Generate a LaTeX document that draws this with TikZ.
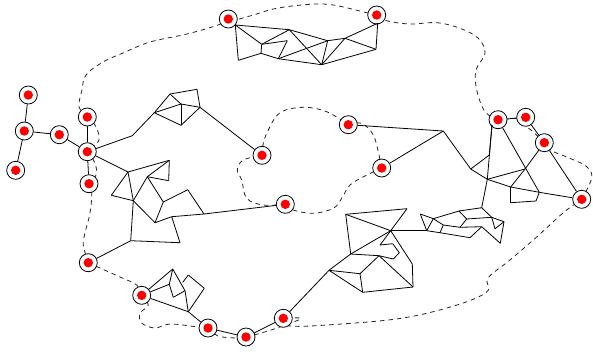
\documentclass[tikz,border=0pt]{standalone}
\usepackage{xcolor}
\usetikzlibrary{backgrounds}
\tikzset{
  termnode/.style={
    circle, draw=black, fill=white, line width=0.8pt,
    minimum size=18pt, inner sep=0pt,
    path picture={\fill[red] (path picture bounding box.center) circle (4.7pt);}
  },
  wire/.style={draw=black, line width=0.8pt, line join=round},
  route/.style={draw=black!85, line width=0.8pt, dash pattern=on 4.5pt off 4pt, smooth, tension=0.6},
}
\begin{document}
\begin{tikzpicture}[x=1pt, y=-1pt]
  \useasboundingbox (0,0) rectangle (593,354);
  % terminals
  \foreach \n/\x/\y in {ta/28.3/95, tb/24.3/131, tc/15.7/170.3, td/59.3/134.7, te/87.3/151.7,
      tf/87.3/117, tg/89/183.7, th/88.3/262.7, ti/141.7/295.3, tj/208/328, tk/246/337,
      tl/283.3/318.3, tm/228.3/19, tn/376.7/15, to/498/119.7, tp/525.7/117.3, tq/544.3/142.7,
      tr/581.7/199.3, ts/262/155.3, tt/348.3/124.7, tu/381.7/168, tv/285.3/204.3}
    \node (\n) [termnode] at (\x,\y) {};
  % left gadget
  \foreach \n/\x/\y in {l1/132.3/135.7, l2/154.3/112.7, l3/170/94, l4/197/89.3, l5/200/107.3,
      l6/181/104, l7/181/125.3}
    \coordinate (\n) at (\x,\y);
  % middle gadget
  \foreach \n/\x/\y in {m1/128/172, m2/169.3/160.3, m3/168.7/180.7, m4/147.3/176.7, m5/111.3/195.3,
      m6/133.3/200.7, m7/155/222.7, m8/130.7/240.7, m9/163.3/202, m10/187.7/189.7, m11/204/214,
      m12/171.7/216.7, m13/180/242.7}
    \coordinate (\n) at (\x,\y);
  % top gadget
  \foreach \n/\x/\y in {u1/235.3/25, u2/289.3/29.7, u3/238.3/60.3, u4/261/53.3, u5/261.7/44.3,
      u6/287.3/40.7, u7/278.3/58.7, u8/321.7/64.7, u9/327.7/40.7, u10/345/38.3, u11/376/49.3,
      u12/377.7/23.3}
    \coordinate (\n) at (\x,\y);
  % right gadget
  \foreach \n/\x/\y in {r1/492/125, r2/489.3/155, r3/470.7/169, r4/487.3/179.3, r5/481.7/207.7,
      r6/539.3/192.3, r7/525/169, r8/510.7/187, r9/510.7/202.7, r10/536/201, r11/443.3/131}
    \coordinate (\n) at (\x,\y);
  % centre gadget
  \foreach \n/\x/\y in {c1/345.7/214.3, c2/407/208.7, c3/390.7/230.7, c4/350.7/254, c5/329/270.3,
      c6/360/273.7, c7/362.7/292.3, c8/379/255.7, c9/413/287, c10/412.3/264, c11/393.3/259,
      c12/399.3/252.7, c13/392.7/243.7, c14/380/245, c15/426.7/230.7}
    \coordinate (\n) at (\x,\y);
  % far gadget
  \foreach \n/\x/\y in {f1/420.3/214, f2/433.3/218.7, f3/443.3/225, f4/440/232.7, f5/470/237.7,
      f6/481.7/226.7, f7/460/227.3, f8/466.7/219, f9/459/211, f10/491.7/217.3, f11/504/221.7,
      f12/495/228.7, f13/500.3/243.3}
    \coordinate (\n) at (\x,\y);
  % bottom gadget
  \foreach \n/\x/\y in {b1/172.7/269, b2/169.3/284.3, b3/173.3/297.3, b4/185/290.7, b5/182.7/282.3,
      b6/188.3/275, b7/204.3/288.3, b8/188.3/311.7}
    \coordinate (\n) at (\x,\y);
  % wires
  \foreach \a/\b in {ta/tb, tb/tc, tb/td, td/te, te/tf, te/tg,
      te/l1, l1/l2, l2/l3, l3/l4, l4/l5, l3/l6, l6/l5, l2/l6, l6/l7, l2/l7, l7/l5, l5/ts,
      te/m1, m1/m2, m2/m3, m3/m4, m4/m2, m1/m5, m5/m6, m1/m6, m4/m6, m6/m7, m6/m8, m4/m9, m9/m7,
      m9/m10, m10/m11, m7/m12, m12/m11, m12/m13, m13/m8, m8/th, m11/tv,
      tm/u1, u1/u2, u1/u3, u3/u4, u1/u5, u5/u4, u5/u2, u5/u6, u6/u7, u4/u7, u7/u8, u2/u8, u7/u9,
      u2/u9, u9/u8, u9/u10, u10/u8, u10/u11, u8/u11, u10/u12, u11/u12, u12/tn,
      to/r1, r1/r2, r2/r3, r1/r4, r4/r5, to/r6, r3/r4, r4/r7, r7/tq, r7/r8, r4/r8, r8/r6, r8/r9,
      r9/r10, r10/r6, r6/tr, tq/tr, tp/tq, to/tp, tt/r11, tu/r11, r11/r3,
      c1/c2, c2/c3, c1/c3, c1/c4, c3/c4, c4/c5, c4/c8, c5/c6, c5/c7, c6/c7, c6/c8, c7/c9, c8/c9,
      c9/c10, c10/c3, c8/c11, c11/c12, c12/c13, c13/c14, c14/c3, c3/c15, c5/tl,
      c15/f1, f1/f2, c15/f2, c15/f4, f2/f3, f3/f4, f4/f5, f5/f6, f3/f7, f7/f6, f7/f8, f2/f9, f9/f8,
      f9/r5, f8/f10, r5/f10, f10/f11, f10/f12, f12/f11, f11/f13, f6/f13,
      ti/b1, ti/b2, b1/b2, b2/b3, b3/b4, b1/b4, b5/b6, b6/b7, b7/b8, b4/b8, ti/b8, b8/tj, tj/tk,
      tk/tl}
    \draw[wire] (\a) -- (\b);
  % routes
  \begin{scope}[on background layer]
    \draw[route] plot coordinates {(tm) (218,25) (187,34) (150,42) (123,53) (103,62) (86,75) (82,90) (79,107) (tf)};
    \draw[route] plot coordinates {(tf) (95,125) (99,140) (te)};
    \draw[route] plot coordinates {(te) (95,163) (96,175) (tg)};
    \draw[route] plot coordinates {(tg) (91.7,193) (90,213) (85,233) (83.3,245) (th)};
    \draw[route] plot coordinates {(th) (100,268) (120,277) (136.7,285) (ti)};
    \draw[route] plot coordinates {(ti) (148.3,305) (140,313.3) (141.7,323) (155,328) (170,324) (198,327) (tj)};
    \draw[route] plot coordinates {(tj) (218,336) (236.7,338) (tk)};
    \draw[route] plot coordinates {(tk) (268,331) (296,321) (300,318) (tl)};
    \draw[route] plot coordinates {(tl) (290,326) (337,324.3) (403,318) (457,305) (487,291.7) (488,278) (510,260) (537,236.7) (563,213) (tr)};
    \draw[route] plot coordinates {(tr) (591.7,178) (586.7,166.7) (570,158.3) (550,150) (tq)};
    \draw[route] plot coordinates {(tq) (533,131.7) (525,125) (tp)};
    \draw[route] plot coordinates {(tp) (508,119) (to)};
    \draw[route] plot coordinates {(to) (485,111.7) (476.7,90) (476,70) (485,53.3) (478.3,38.3) (460,28.3) (436.7,22.7) (410,24) (386.7,20.7) (tn)};
    \draw[route] plot coordinates {(tn) (366.7,12.7) (333.3,5) (310,4.3) (276.7,8.3) (253.3,15) (235,20) (tm)};
    \draw[route] plot coordinates {(ts) (263.3,143.3) (268.3,130) (280,112.7) (303.3,107.3) (326.7,111.7) (tt)};
    \draw[route] plot coordinates {(tt) (361.7,123.3) (373.3,135) (379,155) (tu)};
    \draw[route] plot coordinates {(tu) (365,176) (350,185) (341.7,198.3) (333.3,208.3) (313.3,213.3) (293.3,210) (tv)};
    \draw[route] plot coordinates {(tv) (263.3,205) (246.7,198.3) (241.7,180) (237.3,170) (243.3,160) (ts)};
  \end{scope}
\end{tikzpicture}
\end{document}
